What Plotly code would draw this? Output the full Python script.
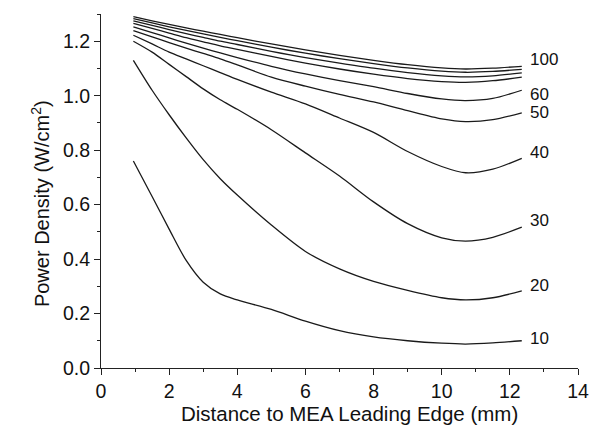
import plotly.graph_objects as go

# Distance to MEA leading edge (mm)
x_mm = [0.95, 1.5, 2.0, 2.5, 3.0, 3.5, 4.0, 5.0, 6.0, 7.0, 8.0, 9.0, 10.0, 10.7, 11.5, 12.35]

# Power density (W/cm^2) per curve
pd_10 = [0.76, 0.63, 0.51, 0.395, 0.315, 0.272, 0.25, 0.215, 0.172, 0.137, 0.114, 0.100, 0.091, 0.088, 0.092, 0.100]
pd_20 = [1.13, 1.02, 0.93, 0.845, 0.765, 0.695, 0.635, 0.525, 0.428, 0.364, 0.318, 0.285, 0.258, 0.250, 0.258, 0.283]
pd_30 = [1.20, 1.16, 1.115, 1.07, 1.025, 0.985, 0.95, 0.875, 0.79, 0.705, 0.61, 0.53, 0.478, 0.466, 0.48, 0.517]
pd_40 = [1.222, 1.19, 1.16, 1.135, 1.11, 1.085, 1.06, 1.013, 0.97, 0.918, 0.865, 0.795, 0.74, 0.717, 0.73, 0.77]
pd_50 = [1.239, 1.216, 1.195, 1.175, 1.155, 1.135, 1.113, 1.068, 1.035, 1.005, 0.977, 0.945, 0.915, 0.905, 0.912, 0.937]
pd_60 = [1.253, 1.232, 1.212, 1.193, 1.175, 1.157, 1.14, 1.108, 1.08, 1.055, 1.033, 1.008, 0.988, 0.982, 0.99, 1.02]
pd_70 = [1.266, 1.247, 1.23, 1.213, 1.198, 1.183, 1.17, 1.144, 1.12, 1.098, 1.079, 1.063, 1.052, 1.049, 1.055, 1.068]
pd_80 = [1.275, 1.258, 1.243, 1.228, 1.214, 1.2, 1.188, 1.163, 1.14, 1.12, 1.101, 1.085, 1.073, 1.069, 1.073, 1.084]
pd_90 = [1.283, 1.267, 1.253, 1.24, 1.227, 1.214, 1.202, 1.178, 1.156, 1.136, 1.118, 1.102, 1.09, 1.086, 1.089, 1.097]
pd_100 = [1.29, 1.275, 1.262, 1.249, 1.237, 1.225, 1.213, 1.19, 1.168, 1.148, 1.13, 1.114, 1.102, 1.098, 1.101, 1.108]

series_names = ["10", "20", "30", "40", "50", "60", "70", "80", "90", "100"]
series_values = [pd_10, pd_20, pd_30, pd_40, pd_50, pd_60, pd_70, pd_80, pd_90, pd_100]
labeled_series = ["10", "20", "30", "40", "50", "60", "100"]

x_title = "Distance to MEA Leading Edge (mm)"
y_title = "Power Density (W/cm<sup>2</sup>)"

# label vertical nudges (pixels), styling only
label_yshift = {"10": 2, "20": 5, "30": 7, "40": 6, "50": 0, "60": -4, "100": 7}

FONT = "Liberation Sans, Arial, sans-serif"

fig = go.Figure()
for name, vals in zip(series_names, series_values):
    fig.add_trace(go.Scatter(
        x=x_mm, y=vals, mode="lines", name=name,
        line=dict(color="#1a1a1a", width=1.3, shape="spline", smoothing=0.8),
        showlegend=False, hoverinfo="skip"))

for name, vals in zip(series_names, series_values):
    if name in labeled_series:
        fig.add_annotation(x=x_mm[-1], y=vals[-1], text=name, showarrow=False,
                           xanchor="left", yanchor="middle", xshift=6,
                           yshift=label_yshift[name],
                           font=dict(family=FONT, size=17, color="#111"))

# axis titles as annotations for precise placement
fig.add_annotation(xref="paper", yref="paper", x=0.52, y=0, yshift=-45,
                   xanchor="center", yanchor="middle", showarrow=False,
                   text=x_title, font=dict(family=FONT, size=20.5, color="#111"))
fig.add_annotation(xref="paper", yref="paper", x=0, y=0.463, xshift=-61,
                   xanchor="center", yanchor="middle", showarrow=False, textangle=-90,
                   text=y_title, font=dict(family=FONT, size=20, color="#111"))

fig.update_xaxes(
    range=[0, 14], tickmode="linear", tick0=0, dtick=2,
    showline=True, linecolor="#222", linewidth=1, mirror=False,
    ticks="outside", ticklen=6, tickwidth=1, tickcolor="#222",
    minor=dict(dtick=1, ticks="outside", ticklen=3, tickcolor="#222", tickwidth=1),
    showgrid=False, zeroline=False,
    tickfont=dict(family=FONT, size=19.5, color="#111"))

fig.update_yaxes(
    range=[0, 1.3], tickmode="linear", tick0=0, dtick=0.2, tickformat=".1f",
    showline=True, linecolor="#222", linewidth=1, mirror=False,
    ticks="outside", ticklen=6, tickwidth=1, tickcolor="#222",
    minor=dict(dtick=0.1, ticks="outside", ticklen=3, tickcolor="#222", tickwidth=1),
    showgrid=False, zeroline=False,
    tickfont=dict(family=FONT, size=19.5, color="#111"))

fig.update_layout(
    width=594, height=430,
    margin=dict(l=93, r=24, t=6, b=70),
    paper_bgcolor="white", plot_bgcolor="white",
)

fig.write_html("out.html")
